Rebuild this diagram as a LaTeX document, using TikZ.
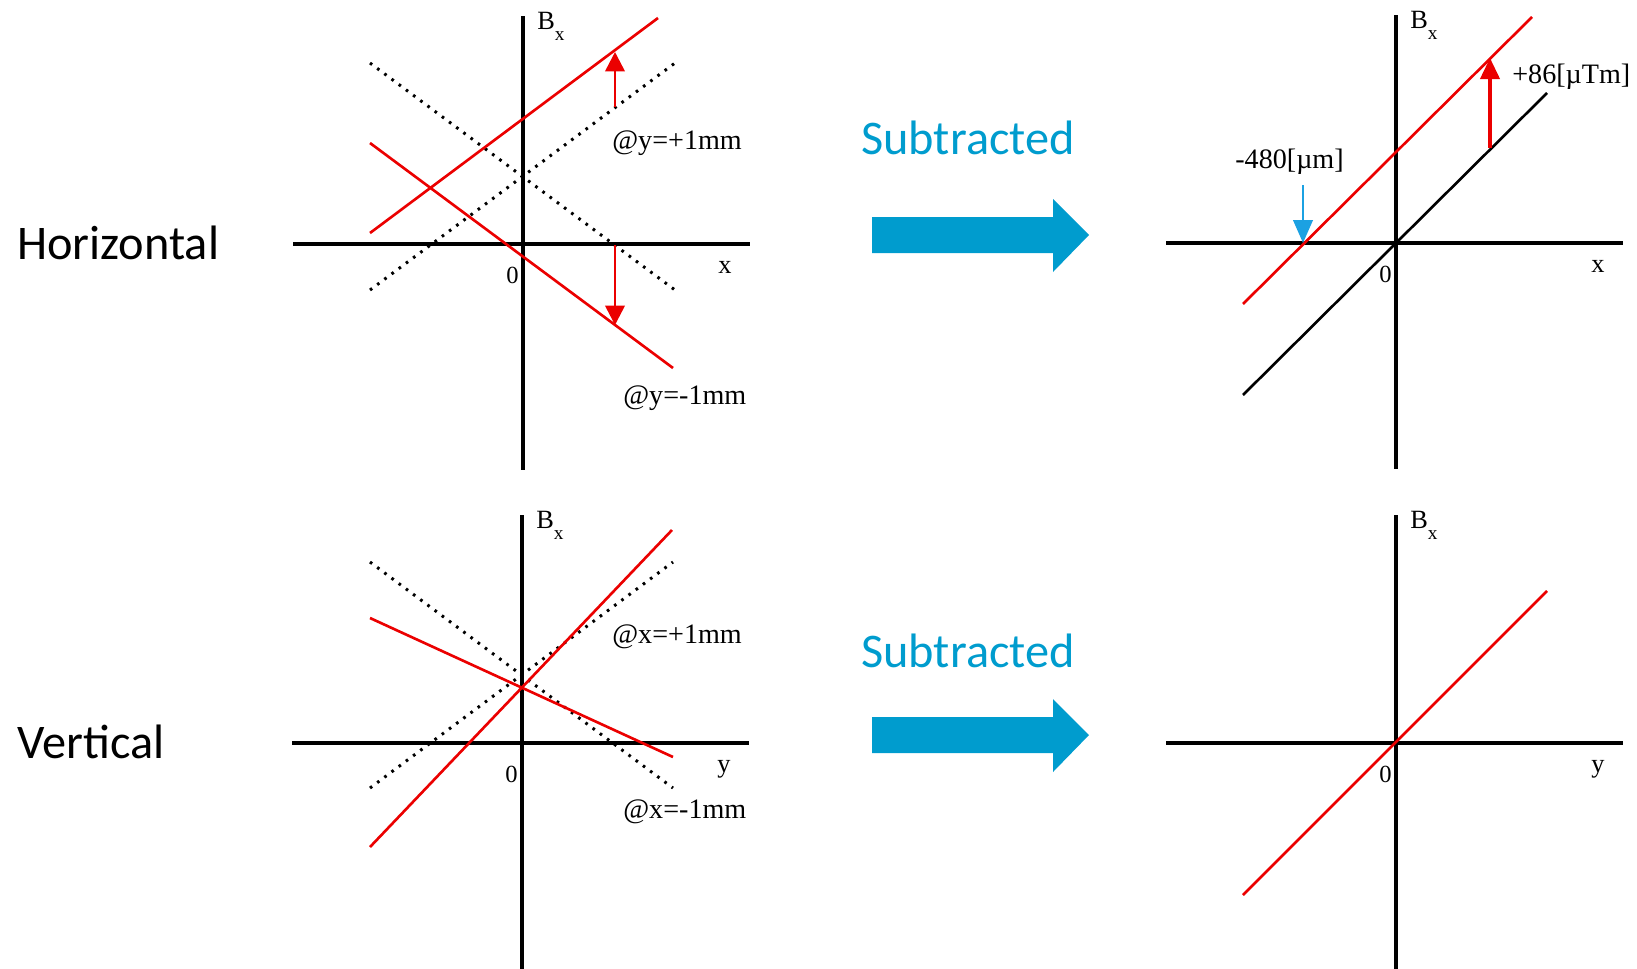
\documentclass[tikz,border=0pt]{standalone}
\usepackage{fontspec}
\setmainfont{Liberation Serif}
\newfontfamily\calibri{Carlito}
\usetikzlibrary{arrows.meta}
\definecolor{subBlue}{RGB}{0,156,206}
\definecolor{tipBlue}{RGB}{27,161,226}
\definecolor{plotRed}{RGB}{235,0,0}

\begin{document}
\begin{tikzpicture}[x=0.02cm, y=-0.02cm,
  axis/.style={line width=2pt},
  fitline/.style={plotRed, line width=1.5pt},
  guide/.style={line width=1.7pt, dash pattern=on 1.5pt off 3.6pt},
  shiftarrow/.style={plotRed, line width=1.5pt, -{Triangle[width=11pt,length=11pt]}},
  axlabel/.style={font=\fontsize{15}{15}\selectfont, anchor=base west, inner sep=0pt},
  tag/.style={font=\fontsize{16}{16}\selectfont, anchor=base west, inner sep=0pt},
  rowtitle/.style={font=\calibri\fontsize{27.5}{27.5}\selectfont, anchor=base west, inner sep=0pt},
  subtitle/.style={font=\calibri\fontsize{27.5}{27.5}\selectfont, text=subBlue, anchor=base, inner sep=0pt},
]
  \useasboundingbox (0,0) rectangle (1637,968);

  % row titles
  \node[rowtitle] (horiz) at (17,259) {Horizontal};
  \node[rowtitle] (vert)  at (17,758) {Vertical};

  % axes of the four panels
  \foreach \ox/\oy/\v/\n in {523/244/x/tl, 1396/243/x/tr, 522/743/y/bl, 1396/743/y/br} {
    \coordinate (O-\n) at (\ox,\oy);
    \draw[axis] (\ox,\oy-228) -- (\ox,\oy+226);
    \draw[axis] (\ox-230,\oy) -- (\ox+227,\oy);
    \node[axlabel] (B-\n) at (\ox+14,\oy-215) {B\raisebox{-6.5pt}{\fontsize{11}{11}\selectfont x}};
    \node[axlabel] (v-\n) at (\ox+195,\oy+29) {\v};
    \node[axlabel, font=\fontsize{14}{14}\selectfont] (z-\n) at (\ox-17,\oy+39) {0};
  }

  % subtracted arrows
  \foreach \dy/\ty [count=\i] in {0/154, 500/667} {
    \node[subtitle] (sub-\i) at (968,\ty) {Subtracted};
    \fill[subBlue] (872,217+\dy) -- (1053,217+\dy) -- (1053,199+\dy) -- (1089,235+\dy)
      -- (1053,272+\dy) -- (1053,253+\dy) -- (872,253+\dy) -- cycle;
  }

  % horizontal, before subtraction
  \draw[guide] (370,290) -- (675,63);
  \draw[guide] (370,63) -- (675,290);
  \draw[fitline] (370,233) -- (658,18);
  \draw[fitline] (370,143) -- (673,368);
  \coordinate (up-s) at (615,107);
  \coordinate (up-e) at (615,52);
  \coordinate (dn-s) at (615,245);
  \coordinate (dn-e) at (615,325);
  \draw[shiftarrow] (up-s) -- (up-e);
  \draw[shiftarrow] (dn-s) -- (dn-e);
  \node[tag] (yp) at (612,149) {@y=+1mm};
  \node[tag] (ym) at (623,404) {@y=-1mm};

  % horizontal, subtracted
  \draw[line width=1.5pt] (1243,395) -- (1547,93);
  \draw[fitline] (1243,304) -- (1532,17);
  \coordinate (off-s) at (1490,148);
  \coordinate (off-e) at (1490,58);
  \coordinate (cut-s) at (1303,185);
  \coordinate (cut-e) at (1303,243);
  \draw[shiftarrow, line width=1.8pt, -{Triangle[width=11pt,length=12pt]}] (off-s) -- (off-e);
  \draw[tipBlue, line width=1.5pt, -{Triangle[width=11pt,length=13pt]}] (cut-s) -- (cut-e);
  \node[tag] (cut) at (1235,168) {-480[µm]};
  \node[tag] (off) at (1512,83) {+86[µTm]};

  % vertical, before subtraction
  \draw[guide] (370,788) -- (673,562);
  \draw[guide] (370,562) -- (673,788);
  \draw[fitline] (370,847) -- (672,530);
  \draw[fitline] (370,618) -- (673,757);
  \node[tag] (xp) at (612,643) {@x=+1mm};
  \node[tag] (xm) at (623,818) {@x=-1mm};

  % vertical, subtracted
  \draw[fitline] (1243,895) -- (1547,591);
\end{tikzpicture}
\end{document}
